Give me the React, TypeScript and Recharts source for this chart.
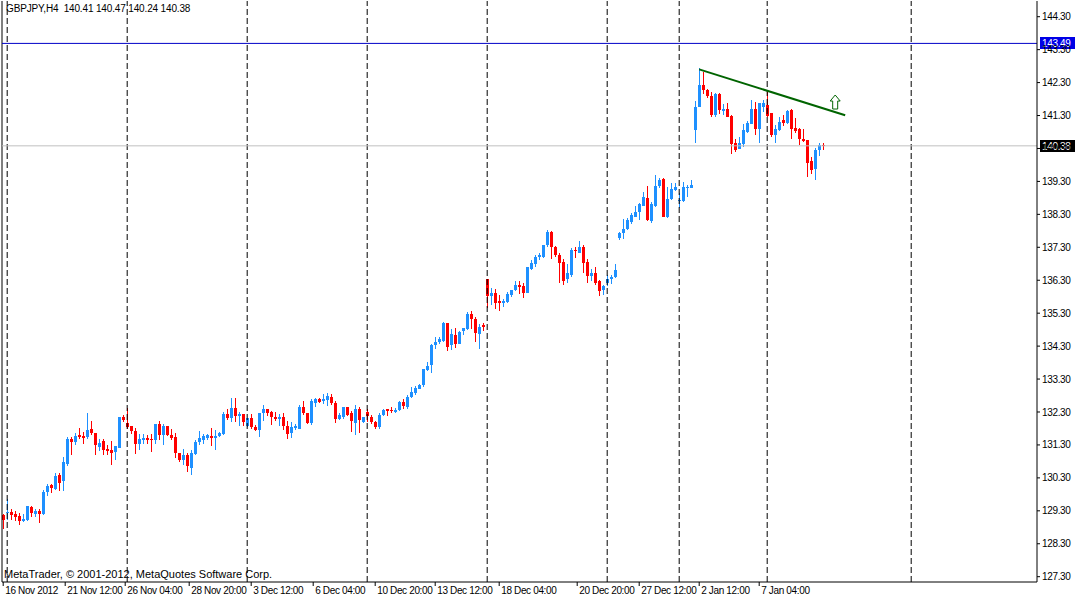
import React from 'react';
import { ComposedChart, Bar, XAxis, YAxis, ReferenceLine, ReferenceDot } from 'recharts';

const opens = [
  129.16, 129.22, 129.27, 129.21, 129.14, 129.0, 129.03, 129.42, 129.2, 129.29,
  129.2, 129.87, 130.07, 129.97, 130.39, 130.19, 130.73, 131.49, 131.38, 131.61,
  131.58, 131.53, 131.79, 131.67, 131.25, 131.41, 131.19, 131.14, 131.1, 131.22,
  132.16, 131.97, 131.86, 131.71, 131.34, 131.46, 131.52, 131.49, 131.44, 131.93,
  131.59, 131.86, 131.61, 131.55, 131.07, 130.84, 130.98, 130.61, 131.01, 131.4,
  131.46, 131.52, 131.56, 131.52, 131.56, 131.62, 132.25, 132.11, 132.43, 132.17,
  132.25, 131.88, 132.11, 131.85, 131.75, 132.26, 132.4, 132.3, 132.16, 132.08,
  132.16, 131.88, 131.65, 131.81, 131.79, 132.46, 132.28, 131.98, 132.56, 132.68,
  132.62, 132.66, 132.77, 132.58, 132.08, 132.14, 132.44, 132.26, 131.97, 132.4,
  131.99, 132.3, 132.16, 132.0, 131.83, 132.2, 132.38, 132.36, 132.3, 132.36,
  132.6, 132.46, 132.75, 132.89, 133.01, 133.11, 133.58, 133.72, 134.33, 134.41,
  134.45, 135.01, 134.33, 134.65, 134.37, 134.75, 134.81, 135.26, 135.13, 134.67,
  134.93, 136.35, 135.83, 135.91, 135.66, 135.62, 135.64, 135.84, 135.99, 136.17,
  136.11, 135.91, 136.63, 136.78, 137.0, 137.02, 137.36, 137.75, 137.32, 137.08,
  136.86, 136.33, 136.47, 137.22, 137.14, 137.32, 136.84, 136.43, 136.53, 136.29,
  135.99, 136.23, 136.33, 136.39, 137.59, 137.73, 137.85, 138.07, 138.23, 138.37,
  138.56, 138.8, 138.09, 138.54, 139.16, 139.37, 138.21, 138.76, 139.04, 138.72,
  138.72, 139.12, 139.1, 140.86, 141.57, 142.24, 142.08, 141.9, 141.31, 141.96,
  141.45, 141.51, 141.29, 140.48, 140.28, 140.44, 140.8, 141.03, 141.49, 140.88,
  141.57, 141.63, 141.37, 140.72, 140.86, 141.15, 141.07, 141.47, 140.92, 140.88,
  140.6, 140.56, 139.93, 139.67, 140.26, 140.41,
];

const highs = [
  129.2, 129.67, 129.36, 129.3, 129.24, 129.2, 129.45, 129.45, 129.36, 129.36,
  129.93, 130.12, 130.12, 130.45, 130.45, 130.92, 131.53, 131.53, 131.65, 131.81,
  131.69, 132.28, 132.03, 131.67, 131.49, 131.49, 131.29, 131.43, 131.27, 132.16,
  132.22, 132.41, 131.86, 131.82, 131.64, 131.64, 131.6, 131.62, 131.95, 132.03,
  131.93, 131.89, 131.77, 131.66, 131.07, 131.18, 131.07, 131.14, 131.46, 131.72,
  131.64, 131.64, 131.8, 131.74, 131.7, 132.29, 132.4, 132.74, 132.74, 132.31,
  132.25, 132.13, 132.23, 131.91, 132.28, 132.5, 132.4, 132.34, 132.3, 132.24,
  132.26, 132.02, 132.0, 131.93, 132.5, 132.62, 132.28, 132.7, 132.72, 132.72,
  132.85, 132.87, 132.85, 132.62, 132.26, 132.46, 132.46, 132.32, 132.52, 132.46,
  132.16, 132.4, 132.2, 132.04, 132.26, 132.4, 132.4, 132.46, 132.42, 132.64,
  132.7, 132.81, 133.05, 133.09, 133.15, 133.6, 133.82, 134.35, 134.59, 134.59,
  135.03, 135.01, 134.83, 134.85, 134.75, 134.85, 135.34, 135.36, 135.18, 134.97,
  134.99, 136.35, 136.07, 136.02, 135.86, 135.74, 135.93, 136.01, 136.27, 136.29,
  136.21, 136.71, 136.9, 137.08, 137.12, 137.38, 137.83, 137.79, 137.34, 137.12,
  136.94, 136.8, 137.28, 137.3, 137.5, 137.36, 136.94, 136.63, 136.71, 136.31,
  136.17, 136.47, 136.45, 136.78, 137.75, 138.17, 138.19, 138.33, 138.54, 138.64,
  138.98, 139.15, 138.66, 139.49, 139.39, 139.39, 139.14, 139.25, 139.25, 138.96,
  139.29, 139.18, 139.35, 141.75, 142.73, 142.61, 142.12, 142.02, 141.98, 141.98,
  141.65, 141.67, 141.31, 140.58, 140.64, 141.03, 141.13, 141.77, 141.71, 141.67,
  141.77, 142.06, 141.37, 141.0, 141.27, 141.33, 141.47, 141.49, 141.21, 140.92,
  140.9, 140.56, 140.05, 140.3, 140.48, 140.47,
];

const lows = [
  128.76, 129.03, 129.03, 129.0, 128.86, 128.96, 128.98, 129.12, 129.11, 128.94,
  129.18, 129.74, 129.84, 129.93, 129.91, 129.91, 130.65, 131.0, 131.31, 131.47,
  131.34, 131.47, 131.59, 131.0, 131.12, 131.0, 131.0, 130.7, 130.83, 131.2,
  132.01, 131.77, 131.63, 131.04, 131.14, 131.34, 131.34, 131.1, 131.32, 131.46,
  131.29, 131.56, 131.46, 130.89, 130.79, 130.69, 130.49, 130.4, 130.98, 131.3,
  131.34, 131.46, 131.28, 131.16, 131.53, 131.6, 132.05, 131.99, 132.01, 131.89,
  131.87, 131.83, 131.77, 131.71, 131.53, 132.04, 132.18, 131.9, 132.02, 131.86,
  131.75, 131.47, 131.51, 131.75, 131.77, 132.22, 131.94, 131.9, 132.44, 132.56,
  132.54, 132.48, 132.5, 131.96, 132.06, 132.1, 132.18, 131.69, 131.59, 131.67,
  131.96, 131.99, 131.94, 131.79, 131.77, 132.18, 132.18, 132.26, 132.26, 132.34,
  132.38, 132.4, 132.73, 132.83, 132.99, 133.07, 133.54, 133.48, 134.2, 134.35,
  134.41, 134.14, 134.18, 134.24, 134.35, 134.63, 134.79, 134.81, 134.43, 134.22,
  134.75, 135.46, 135.56, 135.42, 135.38, 135.5, 135.6, 135.78, 135.97, 135.89,
  135.76, 135.91, 136.61, 136.71, 136.92, 136.98, 137.3, 136.94, 137.02, 136.23,
  136.15, 136.21, 136.41, 136.98, 137.14, 136.51, 136.21, 136.29, 136.17, 135.82,
  135.86, 136.11, 136.19, 136.37, 137.53, 137.55, 137.83, 138.01, 138.21, 138.13,
  138.54, 138.09, 138.03, 138.52, 139.1, 138.21, 138.19, 138.74, 139.02, 138.48,
  138.68, 138.82, 139.1, 140.48, 141.57, 141.94, 141.84, 141.25, 141.27, 141.35,
  141.33, 141.25, 140.12, 140.2, 140.28, 140.34, 140.78, 141.03, 140.7, 140.48,
  141.41, 141.25, 140.64, 140.48, 140.84, 140.97, 141.05, 140.58, 140.78, 140.42,
  140.5, 139.43, 139.51, 139.33, 140.06, 140.24,
];

const closes = [
  129.03, 129.27, 129.18, 129.12, 129.0, 129.06, 129.44, 129.22, 129.3, 129.21,
  129.87, 130.06, 130.0, 130.36, 130.15, 130.78, 131.49, 131.38, 131.57, 131.55,
  131.52, 131.76, 131.65, 131.29, 131.37, 131.15, 131.12, 131.06, 131.27, 132.16,
  132.05, 131.83, 131.71, 131.34, 131.48, 131.52, 131.46, 131.46, 131.95, 131.59,
  131.87, 131.61, 131.52, 131.06, 130.85, 130.98, 130.65, 131.07, 131.4, 131.52,
  131.56, 131.59, 131.5, 131.58, 131.67, 132.25, 132.11, 132.43, 132.17, 132.23,
  131.99, 132.13, 131.83, 131.75, 132.28, 132.38, 132.26, 132.16, 132.1, 132.16,
  131.86, 131.63, 131.83, 131.87, 132.46, 132.26, 131.98, 132.62, 132.68, 132.6,
  132.68, 132.78, 132.56, 132.08, 132.2, 132.44, 132.22, 132.02, 132.38, 132.06,
  132.16, 132.18, 132.0, 131.83, 132.22, 132.36, 132.34, 132.32, 132.36, 132.6,
  132.48, 132.77, 132.91, 133.03, 133.13, 133.6, 133.7, 134.33, 134.41, 134.53,
  135.01, 134.28, 134.67, 134.37, 134.73, 134.85, 135.26, 135.11, 134.71, 134.89,
  134.89, 135.81, 135.91, 135.62, 135.62, 135.68, 135.89, 136.01, 136.17, 136.09,
  135.91, 136.69, 136.81, 137.0, 137.06, 137.36, 137.75, 137.3, 137.08, 136.82,
  136.29, 136.51, 137.22, 137.2, 137.32, 136.82, 136.43, 136.53, 136.23, 135.97,
  136.13, 136.35, 136.41, 136.61, 137.73, 137.87, 138.13, 138.27, 138.37, 138.62,
  138.84, 138.13, 138.62, 139.16, 139.33, 138.23, 138.76, 139.06, 139.14, 138.74,
  139.12, 139.14, 139.2, 141.57, 142.24, 142.06, 141.88, 141.33, 141.94, 141.47,
  141.51, 141.27, 140.44, 140.26, 140.46, 140.86, 141.07, 141.49, 140.9, 141.67,
  141.67, 141.29, 140.72, 140.9, 141.11, 141.07, 141.45, 140.9, 140.84, 140.58,
  140.54, 139.87, 139.65, 140.26, 140.42, 140.38,
];

const xTickBars = [0, 15.5, 30.5, 46.5, 62, 77.5, 93, 108, 124, 143.5, 159, 174, 189];
const xTickLabels = [
  '16 Nov 2012', '21 Nov 12:00', '26 Nov 04:00', '28 Nov 20:00', '3 Dec 12:00',
  '6 Dec 04:00', '10 Dec 20:00', '13 Dec 12:00', '18 Dec 04:00', '20 Dec 20:00',
  '27 Dec 12:00', '2 Jan 12:00', '7 Jan 04:00',
];
const gridBars = [1, 31, 61, 91, 121, 151, 169, 191, 227];
const yTicks = [
  127.3, 128.3, 129.3, 130.3, 131.3, 132.3, 133.3, 134.3, 135.3,
  136.3, 137.3, 138.3, 139.3, 140.3, 141.3, 142.3, 143.3, 144.3,
];
const hLinePrice = 143.49;
const bidPrice = 140.38;
const trendStart = { x: 174, y: 142.7 };
const trendEnd = { x: 210.5, y: 141.31 };
const arrowPoint = { x: 208, y: 141.71 };
const titleText = 'GBPJPY,H4  140.41 140.47 140.24 140.38';
const copyrightText = 'MetaTrader, \u00A9 2001-2012, MetaQuotes Software Corp.';

const X_DOMAIN: [number, number] = [-0.3, 258.45];
const Y_DOMAIN: [number, number] = [127.139, 144.777];

const BULL = '#1E90FF';
const BEAR = '#FF0000';
const FONT = "'Liberation Sans', Arial, sans-serif";
const LS = -0.35;

const data = opens.map((o, i) => ({
  i,
  o,
  h: highs[i],
  l: lows[i],
  c: closes[i],
  range: [lows[i], highs[i]],
}));

const Candle = (props: any) => {
  const { x, y, width, height, payload } = props;
  if (!payload || height == null) return null;
  const { o, h, l, c } = payload;
  const up = c >= o;
  const color = up ? BULL : BEAR;
  const cx = Math.round(x + width / 2);
  const span = h - l || 1;
  const py = (v: number) => y + ((h - v) / span) * height;
  const bt = Math.round(py(Math.max(o, c)));
  const bb = Math.max(Math.round(py(Math.min(o, c))), bt + 1);
  return (
    <g>
      <rect x={cx} y={Math.round(y)} width={1} height={Math.max(1, Math.round(y + height) - Math.round(y))} fill={color} shapeRendering="crispEdges" />
      <rect x={cx - 1} y={bt} width={3} height={bb - bt} fill={color} shapeRendering="crispEdges" />
    </g>
  );
};

const XTick = (props: any) => {
  const { x, y, payload } = props;
  const idx = xTickBars.findIndex((v) => Math.abs(v - payload.value) < 1e-6);
  return (
    <text x={x + 2} y={y} dy="0.71em" fontSize={10} letterSpacing={LS} fontFamily={FONT} fill="#000" textAnchor="start">
      {idx >= 0 ? xTickLabels[idx] : ''}
    </text>
  );
};

const priceBox = (text: string, bg: string) => (props: any) => {
  const vb = props.viewBox || {};
  const right = (vb.x || 0) + (vb.width || 0);
  const cy = vb.y || 0;
  return (
    <g>
      <rect x={right + 3} y={Math.round(cy) - 6} width={35} height={12} fill={bg} shapeRendering="crispEdges" />
      <text x={right + 5} y={Math.round(cy) + 4} fontSize={10} letterSpacing={LS} fontFamily={FONT} fill="#FFFFFF">
        {text}
      </text>
    </g>
  );
};

const Arrow = (props: any) => {
  const { cx, cy } = props;
  if (cx == null || cy == null) return null;
  const pts = [
    [0, -7], [5, -1], [2.5, -1], [2.5, 7], [-2.5, 7], [-2.5, -1], [-5, -1],
  ].map(([dx, dy]) => `${cx + dx},${cy + dy}`).join(' ');
  return <polygon points={pts} fill="#FFFFFF" stroke="#006400" strokeWidth={1} />;
};

export default function App() {
  return (
    <div style={{ position: 'absolute', left: 0, top: 0, width: 1075, height: 599, background: '#fff' }}>
      <ComposedChart
        width={1075}
        height={599}
        data={data}
        margin={{ top: 1, right: 0, bottom: 0, left: 2 }}
      >
        <XAxis
          dataKey="i"
          type="number"
          domain={X_DOMAIN}
          allowDataOverflow
          ticks={xTickBars}
          interval={0}
          height={17}
          tickSize={4}
          tickMargin={1}
          tick={<XTick />}
          axisLine={{ stroke: '#000' }}
          tickLine={{ stroke: '#000' }}
        />
        <YAxis
          yAxisId="p"
          orientation="right"
          type="number"
          domain={Y_DOMAIN}
          allowDataOverflow
          ticks={yTicks}
          interval={0}
          width={38}
          tickSize={3}
          tickMargin={2}
          tickFormatter={(v: number) => v.toFixed(2)}
          tick={{ fontSize: 10, fontFamily: FONT, fill: '#000', letterSpacing: LS }}
          axisLine={{ stroke: '#000' }}
          tickLine={{ stroke: '#000' }}
        />
        {gridBars.map((g) => (
          <ReferenceLine key={'g' + g} yAxisId="p" x={g} stroke="#000" strokeDasharray="6 3" strokeWidth={1} />
        ))}
        <ReferenceLine yAxisId="p" x={X_DOMAIN[0]} stroke="#000" strokeWidth={1} />
        <ReferenceLine yAxisId="p" y={bidPrice} stroke="#C0C0C0" strokeWidth={1} />
        <Bar yAxisId="p" dataKey="range" barSize={3} shape={<Candle />} isAnimationActive={false} />
        <ReferenceLine
          yAxisId="p"
          segment={[trendStart, trendEnd]}
          stroke="#006400"
          strokeWidth={2}
        />
        <ReferenceDot yAxisId="p" x={arrowPoint.x} y={arrowPoint.y} r={6} shape={<Arrow />} />
        <ReferenceLine
          yAxisId="p"
          y={hLinePrice}
          stroke="#0000C8"
          strokeWidth={1}
          label={priceBox(hLinePrice.toFixed(2), '#0000E6')}
        />
        <ReferenceLine
          yAxisId="p"
          y={bidPrice}
          stroke="none"
          label={priceBox(bidPrice.toFixed(2), '#000000')}
        />
      </ComposedChart>
      <svg
        width={1075}
        height={599}
        style={{ position: 'absolute', left: 0, top: 0, pointerEvents: 'none' }}
      >
        <text x={6} y={12} fontSize={10} letterSpacing={-0.15} fontFamily={FONT} fill="#000" style={{ whiteSpace: 'pre' }}>
          {titleText}
        </text>
        <text x={4} y={578} fontSize={11} fontFamily={FONT} fill="#000">
          {copyrightText}
        </text>
      </svg>
    </div>
  );
}
